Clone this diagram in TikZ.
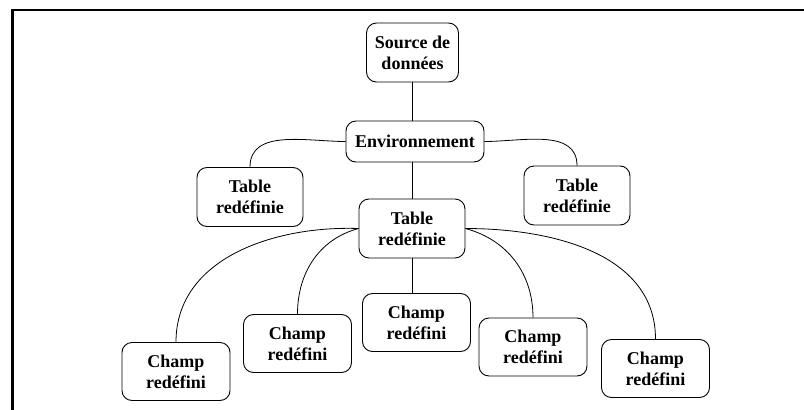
\documentclass[tikz,border=0pt]{standalone}
\usepackage{fontspec}
\setmainfont{Liberation Serif}

\begin{document}
\begin{tikzpicture}[x=1pt,y=1pt,box/.style={rectangle,draw=black,rounded corners=10pt,align=center,font=\bfseries\fontsize{18}{21}\selectfont,inner sep=2pt,line width=0.9pt},t/.style={box,minimum width=106pt,minimum height=59pt},c/.style={box,minimum width=108pt,minimum height=58pt},l/.style={line width=0.8pt}]
        \useasboundingbox (0,0) rectangle (804,-410);
        \draw [line width=2.4pt] (12.5,-410) -- (12.5,-10) -- (804,-10);
        \node[box,minimum width=92pt,minimum height=59pt] (src) at (412.5,-52.5) {Source de\\données};
        \node[box,minimum width=138pt,minimum height=41pt] (env) at (415,-141.5) {Environnement};
        \node[t] (tl) at (250,-197) {Table\\redéfinie};
        \node[t] (tr) at (577,-195.5) {Table\\redéfinie};
        \node[t] (tc) at (412,-228.5) {Table\\redéfinie};
        \node[c] (c1) at (176,-371.5) {Champ\\redéfini};
        \node[c] (c2) at (297.5,-343.5) {Champ\\redéfini};
        \node[c] (c3) at (416.5,-322.5) {Champ\\redéfini};
        \node[c] (c4) at (533,-347) {Champ\\redéfini};
        \node[c] (c5) at (655.5,-368.5) {Champ\\redéfini};
        \draw [l] (src.south) -- (src.south |- env.north);
        \draw [l] (tc.north |- env.south) -- (tc.north);
        \draw [l] (env.west) to[out=180,in=90] (tl.north);
        \draw [l] (env.east) to[out=0,in=90] (tr.north);
        \draw [l] (tc.west) to[out=178,in=90] (c1.north);
        \draw [l] (tc.west) to[out=195,in=90] (c2.north);
        \draw [l] (tc.south) -- (tc.south |- c3.north);
        \draw [l] (tc.east) to[out=-15,in=90] (c4.north);
        \draw [l] (tc.east) to[out=0,in=90] (c5.north);
    \end{tikzpicture}
\end{document}
